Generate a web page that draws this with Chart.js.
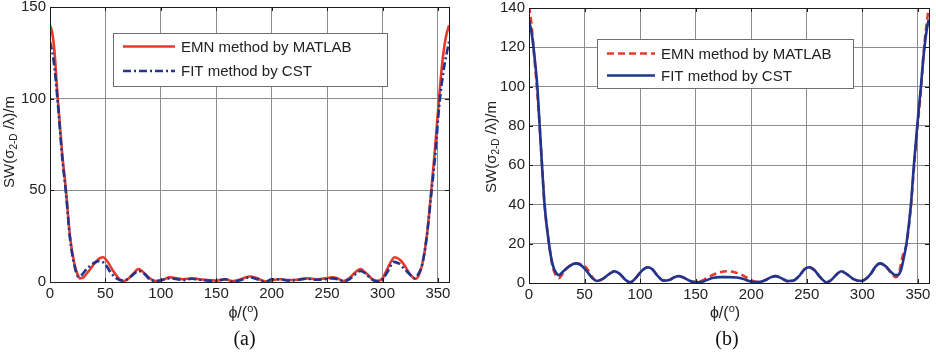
<!DOCTYPE html>
<html><head><meta charset="utf-8">
<script src="https://cdn.jsdelivr.net/npm/chart.js@4/dist/chart.umd.min.js"></script>
<style>
html,body{margin:0;padding:0;background:#fff;}
#wrap{position:relative;width:936px;height:356px;overflow:hidden;background:#fff;}
canvas{position:absolute;top:0;}
#ca{left:0;} #cb{left:468px;}
</style></head><body>
<div id="wrap"><canvas id="ca" width="468" height="356"></canvas><canvas id="cb" width="468" height="356"></canvas></div>
<script>
// ---------- data ----------
const xTicks = [0, 50, 100, 150, 200, 250, 300, 350];
const yTicksA = [0, 50, 100, 150];
const yTicksB = [0, 20, 40, 60, 80, 100, 120, 140];
const seriesNames = ['EMN method by MATLAB', 'FIT method by CST'];

// panel (a)
const aPhiEmn = [0,2,4,7,11,14.4,18,22,25,27,30,35,40,45,48,52,57,62,66,70,75,80,84,90,96,100,108,115,120,128,135,142,150,158,165,172,180,187,195,200,208,215,222,232,240,248,255,260,265,270,275,280,284,290,295,300,305,311,316,320,325,330,333,336,340,344,347,351,354,357,360];
const aSwEmn  = [140,136,126,100,70,50,25,10,4,2,2.5,6,10,13,13.5,11,6,2,0.5,1.5,4.5,7,5.5,2,0.5,0.8,2.5,2,1.5,2,1.5,1,0.8,1.5,0.5,1.5,3,2,0.2,1,1.5,1,1.2,2,1.5,2,2.5,1.8,0.5,2,5,7,5.5,2,0.5,2,8,13.5,12,9,4,1.8,4,10,25,50,70,100,120,133,140];
const aPhiFit = [0,3,7,11,14.5,18,22,25.5,28,33,40,45,50,55,60,65,70,75,80,85,90,96,100,108,115,120,128,135,142,150,158,165,172,180,187,195,200,208,215,222,232,240,248,255,260,265,270,275,280,285,290,295,300,305,310,315,320,325,329,332,336,340,344,348,351,355,358,360];
const aSwFit  = [131,122,98,68,48,24,9,3,3.5,7,10.5,11.5,9.5,5,2,0.8,1.5,4,6,4.5,1.5,0.5,1,2,1.5,1,1.8,1.2,0.8,0.5,1.5,0.3,1,2.5,1.5,0.2,1.5,1.5,0.8,1,1.8,1.2,1.5,2,1.5,0.5,1.5,4,6,4.5,1.5,0.5,1.5,6,11,10,7,4,2,4,10,25,48,72,95,115,125,131];

// panel (b)
const bPhiEmn = [0,2,4,7,9.6,11.7,14,18,21,24,27,30,35,42,47,52,57,61,66,72,77,82,87,91,96,102,107,111,116,121,126,131,135,140,145,150,155,160,165,172,178,185,192,198,203,208,213,218,222,227,233,238,243,248,252,257,262,268,272,277,281,286,292,299,303,308,312,316,321,326,330,333,336,339.8,343.7,346.4,349.4,352.7,355,357,359,360];
const bSwEmn  = [141,133,120,100,80,60,40,20,9,4,2.5,4.5,8,10,9.5,7.5,3,1,2,4.5,6,4.5,1.5,0.3,2.5,6.5,8,7,3.5,1.2,1.5,3,3.5,2.5,1,0.5,1,2.5,4,5.5,6,5.5,4,2,0.8,0.6,1.5,3,3.5,2.5,0.8,1.2,3.5,7,8,6.5,3,0.3,1.5,4.5,6,4.5,2,1,2,5,8.5,10,8.5,5,3,5,13,20,39,58,78,98,116,128,137,141];
const bPhiFit = [0,3,5,7.5,9.6,11.7,14,18,21,24,27,30,35,42,47,52,57,61,66,72,77,82,87,91,96,102,107,111,116,121,126,131,135,140,145,150,155,160,165,172,180,187,193,198,203,208,213,218,222,227,233,238,243,248,252,257,262,268,272,277,281,286,292,299,303,308,312,316,321,326,330,332.3,335,337,339.8,343.7,346.4,349.4,352.7,355,357,359.3,360];
const bSwFit  = [134,125,115,100,80,60,40,20,10,5.5,4,5.5,8,10,9,6,2.5,1,2,4.5,6,4.5,1.5,0.3,2.5,6.5,8,7,3.5,1.2,1.5,3,3.5,2.5,1,0.5,0.5,1.5,2.5,3,3,2.8,2,1,0.5,0.6,1.5,3,3.5,2.5,1,1.2,3.5,7,8,6.5,3,0.3,1.5,4.5,6,4.5,2,1,2,5,8.5,10,8.5,5.5,4,4.2,7,12,20.4,39.7,60,80,100,115,125,133,134];

// ---------- styling ----------
const RED = '#e63b2a';
const BLUE = '#1f3590';
const SANS = '"Liberation Sans", Arial, Helvetica, sans-serif';
const SERIF = '"Liberation Serif", "Times New Roman", serif';
const TXT = '#222';

function pts(xs, ys){ return xs.map((x,i)=>({x:x, y:ys[i]})); }

const decor = {
  id: 'decor',
  afterDraw(chart, args, o){
    const {ctx, chartArea:a, scales} = chart;
    ctx.save();
    // frame
    ctx.strokeStyle = '#1a1a1a'; ctx.lineWidth = 1;
    ctx.strokeRect(a.left+0.5, a.top+0.5, a.right-a.left, a.bottom-a.top);
    // inward tick marks on all sides
    const L = 4;
    ctx.beginPath();
    scales.x.ticks.forEach(t=>{
      const p = Math.round(scales.x.getPixelForValue(t.value))+0.5;
      ctx.moveTo(p, a.bottom); ctx.lineTo(p, a.bottom-L);
      ctx.moveTo(p, a.top); ctx.lineTo(p, a.top+L);
    });
    scales.y.ticks.forEach(t=>{
      const p = Math.round(scales.y.getPixelForValue(t.value))+0.5;
      ctx.moveTo(a.left, p); ctx.lineTo(a.left+L, p);
      ctx.moveTo(a.right, p); ctx.lineTo(a.right-L, p);
    });
    ctx.stroke();

    // legend box
    const lg = o.legend;
    ctx.fillStyle = '#fff';
    ctx.fillRect(lg.x, lg.y, lg.w, lg.h);
    ctx.strokeStyle = '#6e6e6e'; ctx.lineWidth = 1;
    ctx.strokeRect(lg.x+0.5, lg.y+0.5, lg.w, lg.h);
    chart.data.datasets.forEach((ds, i)=>{
      const ry = lg.rows[i];
      ctx.save();
      ctx.strokeStyle = ds.borderColor; ctx.lineWidth = ds.borderWidth;
      ctx.setLineDash(ds.borderDash || []);
      ctx.beginPath(); ctx.moveTo(lg.l1, ry); ctx.lineTo(lg.l2, ry); ctx.stroke();
      ctx.restore();
      ctx.fillStyle = TXT; ctx.font = '15px ' + SANS;
      ctx.textBaseline = 'middle'; ctx.textAlign = 'left';
      ctx.fillText(ds.label, lg.tx, ry+1);
    });

    // x title  phi/(o)
    const cx = (a.left + a.right)/2 + o.xTitleDx;
    ctx.fillStyle = TXT; ctx.textBaseline = 'alphabetic'; ctx.textAlign = 'left';
    const big = '16px ' + SANS, small = '11px ' + SANS;
    ctx.font = big; const w1 = ctx.measureText('\u03D5/(').width;
    ctx.font = small; const w2 = ctx.measureText('o').width;
    ctx.font = big; const w3 = ctx.measureText(')').width;
    let sx = cx - (w1+w2+w3)/2; const by = o.xTitleY;
    ctx.font = big; ctx.fillText('\u03D5/(', sx, by); sx += w1;
    ctx.font = small; ctx.fillText('o', sx, by-6); sx += w2;
    ctx.font = big; ctx.fillText(')', sx, by);

    // y title  SW(sigma_{2-D} /lambda)/m, rotated
    ctx.save();
    ctx.translate(o.yTitleX, o.yTitleY);
    ctx.rotate(-Math.PI/2);
    const f1 = '15px ' + SANS, f2 = '10px ' + SANS;
    const parts = [['SW(\u03C3', f1, 0], ['2-D', f2, 4], [' /\u03BB)/m', f1, 0]];
    let tw = 0;
    parts.forEach(p=>{ ctx.font = p[1]; p.push(ctx.measureText(p[0]).width); tw += p[3]; });
    let px = -tw/2;
    ctx.textBaseline = 'middle';
    parts.forEach(p=>{ ctx.font = p[1]; ctx.fillText(p[0], px, p[2]); px += p[3]; });
    ctx.restore();

    // caption
    ctx.font = '20px ' + SERIF; ctx.textAlign = 'center'; ctx.textBaseline = 'middle';
    ctx.fillStyle = '#111';
    ctx.fillText(o.caption, (a.left + a.right)/2 + o.capDx, o.capY);
    ctx.restore();
  }
};

function makeChart(id, cfg){
  const tickFont = {family: SANS, size: 15};
  return new Chart(document.getElementById(id), {
    type: 'line',
    data: { datasets: cfg.datasets },
    options: {
      responsive: false, animation: false, devicePixelRatio: 1,
      layout: { padding: cfg.pad },
      plugins: { legend: {display:false}, tooltip: {enabled:false}, decor: cfg.decor },
      elements: { point: { radius: 0 } },
      scales: {
        x: {
          type: 'linear', min: 0, max: 360,
          grid: { color: '#8c8c8c', lineWidth: 1, drawTicks: false },
          border: { display: false },
          ticks: { stepSize: 50, includeBounds: false, font: tickFont, color: TXT, padding: 3, maxRotation: 0,
                   callback: v => xTicks.includes(v) ? String(v) : '' },
          afterFit: ax => { ax.height = cfg.xH; ax.paddingLeft = 0; ax.paddingRight = 0; }
        },
        y: {
          type: 'linear', min: 0, max: cfg.yTicks[cfg.yTicks.length-1],
          grid: { color: '#8c8c8c', lineWidth: 1, drawTicks: false },
          border: { display: false },
          ticks: { stepSize: cfg.yTicks[1]-cfg.yTicks[0], font: tickFont, color: TXT, padding: 4,
                   callback: v => cfg.yTicks.includes(v) ? String(v) : '' },
          afterFit: ax => { ax.width = cfg.yW; ax.paddingTop = 0; ax.paddingBottom = 0; }
        }
      }
    },
    plugins: [decor]
  });
}

makeChart('ca', {
  yTicks: yTicksA, yW: 50, xH: 74,
  pad: {left: 0, top: 7, right: 19, bottom: 0},
  datasets: [
    {label: seriesNames[0], data: pts(aPhiEmn, aSwEmn), borderColor: RED, borderWidth: 2.6,
     cubicInterpolationMode: 'monotone', fill: false, order: 1},
    {label: seriesNames[1], data: pts(aPhiFit, aSwFit), borderColor: BLUE, borderWidth: 2.6, borderDash: [8,3,2,3],
     cubicInterpolationMode: 'monotone', fill: false, order: 0}
  ],
  decor: {
    legend: {x: 113, y: 33, w: 274, h: 53, l1: 123, l2: 175, tx: 181, rows: [46.5, 71]},
    xTitleDx: -6, xTitleY: 318, yTitleX: 10, yTitleY: 142, caption: '(a)', capDx: -5, capY: 340
  }
});

makeChart('cb', {
  yTicks: yTicksB, yW: 61, xH: 73,
  pad: {left: 0, top: 8, right: 7, bottom: 0},
  datasets: [
    {label: seriesNames[0], data: pts(bPhiEmn, bSwEmn), borderColor: RED, borderWidth: 2.6, borderDash: [7,4],
     cubicInterpolationMode: 'monotone', fill: false, order: 1},
    {label: seriesNames[1], data: pts(bPhiFit, bSwFit), borderColor: BLUE, borderWidth: 2.6,
     cubicInterpolationMode: 'monotone', fill: false, order: 0}
  ],
  decor: {
    legend: {x: 129, y: 39, w: 256, h: 49, l1: 139, l2: 187, tx: 193, rows: [53.5, 75.5]},
    xTitleDx: -4, xTitleY: 318, yTitleX: 24, yTitleY: 147, caption: '(b)', capDx: -2, capY: 340
  }
});
</script>
</body></html>
